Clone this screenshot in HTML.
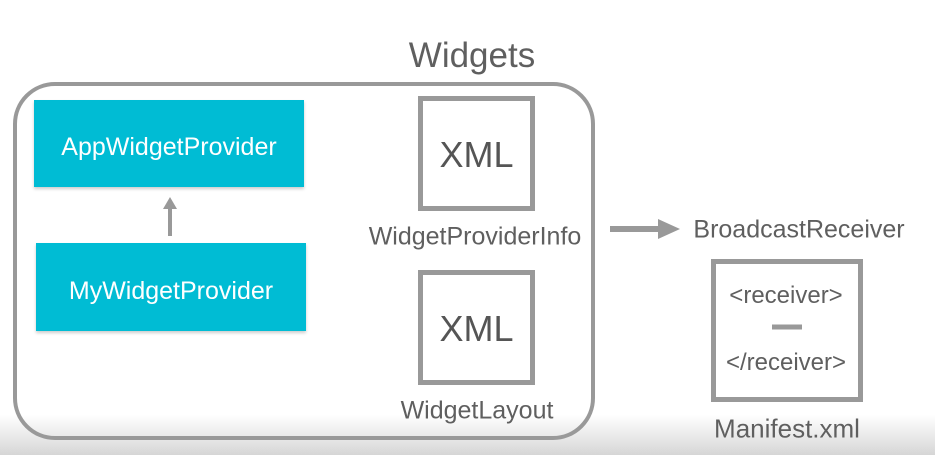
<!DOCTYPE html>
<html><head><meta charset="utf-8"><style>
body{margin:0;width:935px;height:455px;overflow:hidden;background:#fff;font-family:"Liberation Sans",sans-serif;position:relative}
.a{position:absolute}
.t{position:absolute;color:#5f5f5f;white-space:nowrap;transform:translate(-50%,-50%)}
.cy{position:absolute;background:#00bcd4;color:#fff;font-size:25px;display:flex;align-items:center;justify-content:center;box-shadow:0 2px 3px rgba(0,0,0,.2);box-sizing:border-box;padding-top:8px}
.x{position:absolute;border:5px solid #999;box-sizing:border-box;display:flex;align-items:center;justify-content:center;color:#555;font-size:36px;padding-top:2px}
</style></head><body>
<div class="a" style="left:0;top:415px;width:935px;height:40px;background:linear-gradient(#fff,#d6d6d6)"></div>
<div class="t" style="left:472px;top:56px;font-size:35px">Widgets</div>
<div class="a" style="left:13px;top:82px;width:582px;height:358px;border:4px solid #999;border-radius:42px;box-sizing:border-box"></div>
<div class="cy" style="left:34px;top:100px;width:270px;height:87px">AppWidgetProvider</div>
<div class="cy" style="left:36px;top:243px;width:270px;height:88px">MyWidgetProvider</div>
<svg class="a" style="left:0;top:0" width="935" height="455">
<line x1="170" y1="236" x2="170" y2="208" stroke="#999" stroke-width="4"/>
<polygon points="163,209 177,209 170,197" fill="#999"/>
<line x1="610" y1="229" x2="660" y2="229" stroke="#999" stroke-width="6"/>
<polygon points="658,219 680,229 658,239" fill="#999"/>
<line x1="772" y1="327" x2="802" y2="327" stroke="#999" stroke-width="5"/>
</svg>
<div class="x" style="left:418px;top:96px;width:117px;height:115px">XML</div>
<div class="t" style="left:475px;top:237px;font-size:25px">WidgetProviderInfo</div>
<div class="x" style="left:418px;top:270px;width:117px;height:115px">XML</div>
<div class="t" style="left:477px;top:411px;font-size:25px">WidgetLayout</div>
<div class="t" style="left:799px;top:230px;font-size:25px">BroadcastReceiver</div>
<div class="x" style="left:711px;top:259px;width:152px;height:143px"></div>
<div class="t" style="left:786px;top:296px;font-size:24px">&lt;receiver&gt;</div>
<div class="t" style="left:786px;top:363px;font-size:24px">&lt;/receiver&gt;</div>
<div class="t" style="left:787px;top:429px;font-size:26px">Manifest.xml</div>
</body></html>
